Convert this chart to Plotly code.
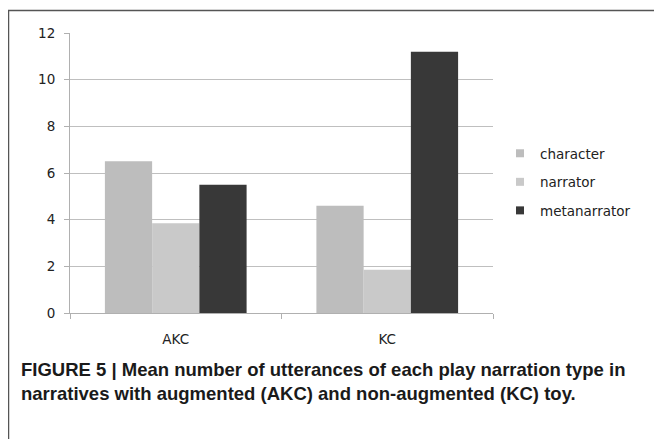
import plotly.graph_objects as go

categories = ["AKC", "KC"]
series_names = ["character", "narrator", "metanarrator"]
character = [6.5, 4.6]
narrator = [3.85, 1.85]
metanarrator = [5.5, 11.2]
y_ticks = [0, 2, 4, 6, 8, 10, 12]

colors = ["#bdbdbd", "#c9c9c9", "#383838"]
values = [character, narrator, metanarrator]

# page body has an 8px margin; work in screen pixels and shift
OFF = 8
W, H = 654, 431
PL, PR, PT, PB = 70, 493, 33, 313          # plot area in screen px
L, R, T, B = PL - OFF, W - (PR - OFF), PT - OFF, H - (PB - OFF)
pw, ph = W - L - R, H - T - B

def px_x(p):
    return (p - OFF - L) / pw

def px_y(p):
    return (H - B - (p - OFF)) / ph

fig = go.Figure()
for name, vals, c in zip(series_names, values, colors):
    fig.add_trace(go.Bar(x=categories, y=vals, name=name, marker_color=c,
                         marker_line_width=0, showlegend=False))
for name, c in zip(series_names, colors):
    fig.add_trace(go.Scatter(x=[None], y=[None], mode="markers", name=name,
                             marker=dict(symbol="square", size=8, color=c),
                             legendgroup=name))

font_family = "DejaVu Sans, Lato, sans-serif"
fig.update_layout(
    width=W, height=H,
    margin=dict(l=L, r=R, t=T, b=B),
    paper_bgcolor="white", plot_bgcolor="white",
    barmode="group", bargap=0.33, bargroupgap=0,
    font=dict(family=font_family, size=13, color="#222"),
    showlegend=True,
    legend=dict(x=px_x(500), y=px_y(138), xanchor="left", yanchor="top",
                font=dict(size=13.5, color="#222"), tracegroupgap=8,
                itemwidth=30, bgcolor="rgba(0,0,0,0)"),
    xaxis=dict(showline=True, linecolor="#b0b0b0", linewidth=1,
               ticks="outside", ticklen=5, tickcolor="#b0b0b0",
               tickson="boundaries", showgrid=False,
               tickfont=dict(size=13.5), ticklabelstandoff=14),
    yaxis=dict(range=[0, 12], tickvals=y_ticks, showline=True,
               linecolor="#b0b0b0", linewidth=1, ticks="outside",
               ticklen=5, tickcolor="#b0b0b0", showgrid=True,
               gridcolor="#bfbfbf", gridwidth=1, zeroline=False,
               tickfont=dict(size=13.5), ticklabelstandoff=6),
)

fig.add_shape(type="rect", xref="paper", yref="paper",
              x0=px_x(8.5), y0=px_y(480), x1=px_x(720), y1=px_y(10.5),
              line=dict(color="#555", width=1.5), fillcolor="rgba(0,0,0,0)",
              layer="below")

caption_font = dict(family="Liberation Sans Narrow, Arial Narrow, Liberation Sans, sans-serif",
                    size=18.5, color="#1a1a1a")
fig.add_annotation(xref="paper", yref="paper", x=px_x(19), y=px_y(381),
                   xanchor="left", yanchor="middle", align="left", showarrow=False,
                   text="<b>FIGURE 5 | Mean number of utterances of each play narration type in</b><br>"
                        "<b>narratives with augmented (AKC) and non-augmented (KC) toy.</b>",
                   font=caption_font)

fig.write_html("out.html")
